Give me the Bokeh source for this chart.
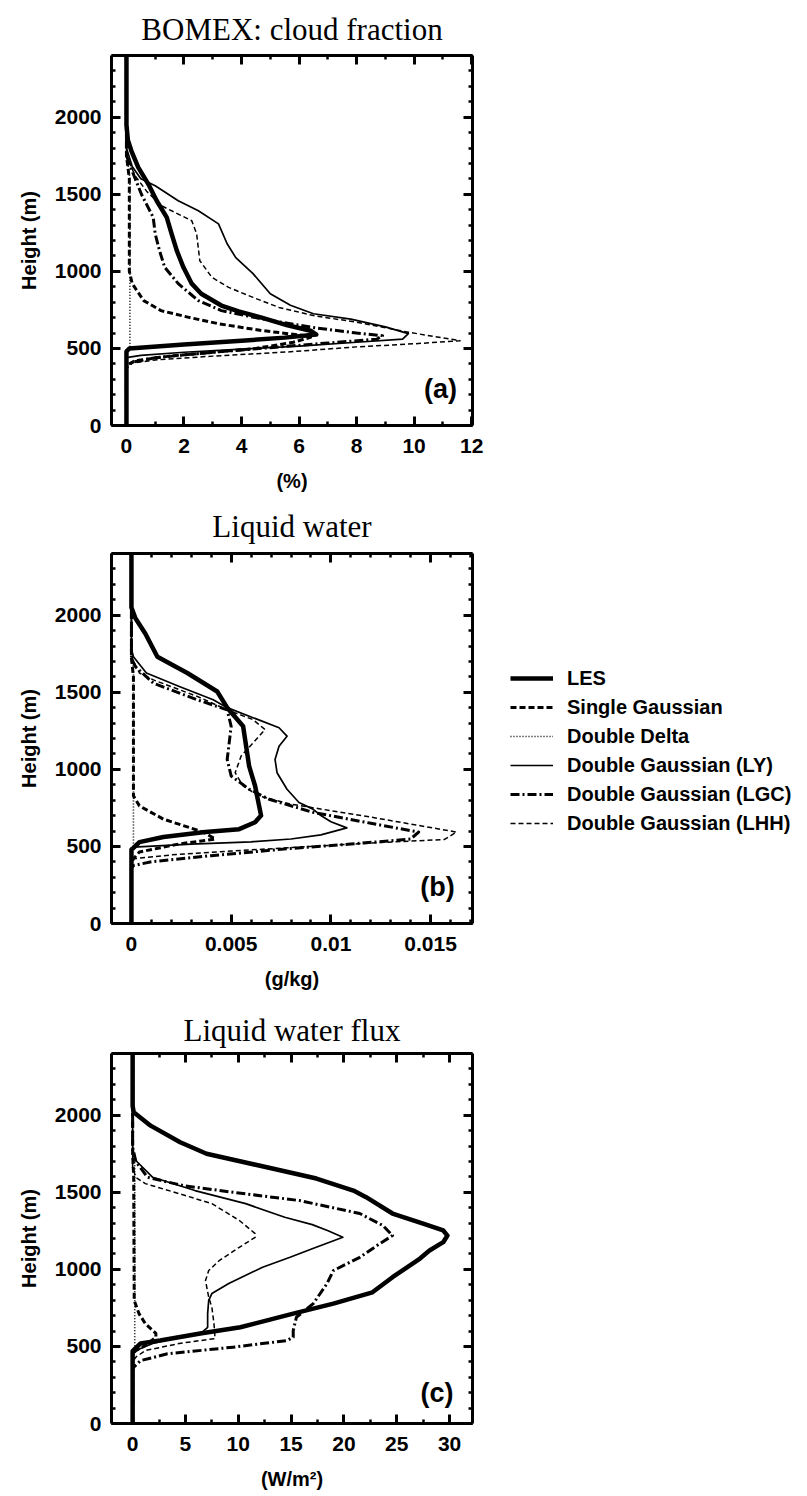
from bokeh.plotting import figure
from bokeh.models import LinearAxis, FixedTicker, Range1d, Label, Legend, LegendItem
from bokeh.layouts import column, row
from bokeh.embed import file_html
from bokeh.resources import INLINE

# ---------------- data ----------------
SERIES = ["LES", "Single Gaussian", "Double Delta",
          "Double Gaussian (LY)", "Double Gaussian (LGC)", "Double Gaussian (LHH)"]

# Panel (a): cloud fraction (%) vs height (m)
A_LES_X = [0, 0, 0.1, 2.0, 4.0, 5.5, 6.6, 6.4, 5.6, 4.7, 3.9, 3.3, 2.6, 2.27, 1.98, 1.75, 1.57, 1.4, 1.05, 0.76, 0.41, 0.17, 0.05, 0, 0]
A_LES_Y = [0, 480, 500, 525, 550, 570, 590, 615, 650, 700, 740, 778, 855, 920, 1026, 1134, 1243, 1350, 1458, 1566, 1674, 1782, 1850, 1950, 2400]
A_SG_X = [0, 0, 0.3, 1.5, 3.0, 4.5, 5.8, 6.4, 6.2, 4.7, 3.2, 2.2, 1.2, 0.6, 0.2, 0.1, 0.1, 0, 0]
A_SG_Y = [0, 390, 420, 450, 475, 500, 540, 572, 583, 616, 660, 700, 745, 810, 920, 1000, 1600, 1750, 2400]
A_DD_X = [0, 0, 0.12, 0.12, 0.05, 0, 0]
A_DD_Y = [0, 490, 500, 1600, 1700, 1800, 2400]
A_LY_X = [0, 0, 0.5, 2.0, 4.0, 6.0, 8.0, 9.6, 9.8, 9.0, 7.8, 6.5, 5.7, 5.0, 4.4, 3.8, 3.5, 3.2, 2.5, 1.8, 1.0, 0.5, 0.2, 0, 0]
A_LY_Y = [0, 440, 455, 475, 495, 515, 540, 560, 596, 640, 690, 725, 780, 855, 985, 1089, 1179, 1308, 1393, 1458, 1555, 1600, 1680, 1800, 2400]
A_LGC_X = [0, 0, 0.2, 1.0, 3.0, 5.0, 7.0, 8.7, 8.9, 8.0, 6.5, 4.7, 3.3, 2.5, 1.8, 1.33, 1.15, 1.0, 0.93, 0.52, 0.2, 0, 0]
A_LGC_Y = [0, 375, 410, 440, 475, 505, 535, 560, 583, 600, 635, 692, 745, 810, 920, 1026, 1134, 1243, 1350, 1500, 1650, 1750, 2400]
A_LHH_X = [0, 0, 1.0, 3.0, 5.7, 8.0, 10.0, 11.6, 9.8, 8.0, 6.5, 5.3, 4.4, 3.55, 2.97, 2.55, 2.44, 2.27, 1.22, 0.7, 0.3, 0, 0]
A_LHH_Y = [0, 400, 425, 450, 478, 510, 530, 550, 605, 670, 713, 766, 831, 896, 961, 1069, 1243, 1328, 1425, 1520, 1620, 1750, 2400]

# Panel (b): liquid water (g/kg) vs height (m)
B_LES_X = [0, 0, 0.0001, 0.0004, 0.0016, 0.0037, 0.0054, 0.0062, 0.0065, 0.0064, 0.0062, 0.0059, 0.00575, 0.0056, 0.0048, 0.0043, 0.0028, 0.0013, 0.0007, 0.0002, 0, 0]
B_LES_Y = [0, 480, 490, 528, 561, 593, 612, 657, 700, 763, 892, 1021, 1150, 1279, 1400, 1505, 1625, 1730, 1880, 1980, 2050, 2400]
B_SG_X = [0, 0, 0.0001, 0.0004, 0.0024, 0.0042, 0.0036, 0.0016, 0.0004, 0.0001, 0.0001, 0, 0]
B_SG_Y = [0, 390, 420, 464, 516, 548, 593, 677, 763, 828, 1600, 1720, 2400]
B_DD_X = [0, 0, 0.0001, 0.0001, 0, 0]
B_DD_Y = [0, 490, 500, 1650, 1750, 2400]
B_LY_X = [0, 0, 0.0001, 0.003, 0.006, 0.008, 0.0095, 0.0108, 0.0100, 0.0095, 0.0091, 0.0084, 0.0078, 0.0073, 0.0072, 0.0074, 0.0078, 0.0074, 0.0061, 0.0048, 0.0041, 0.0024, 0.00075, 0.0001, 0, 0]
B_LY_Y = [0, 460, 495, 515, 530, 548, 575, 620, 660, 700, 742, 785, 871, 978, 1064, 1150, 1215, 1270, 1335, 1400, 1451, 1537, 1625, 1730, 1780, 2400]
B_LGC_X = [0, 0, 0.0001, 0.001, 0.004, 0.008, 0.011, 0.014, 0.0144, 0.012, 0.0091, 0.0069, 0.0059, 0.005, 0.0048, 0.0049, 0.005, 0.0048, 0.0033, 0.0011, 0.0002, 0, 0]
B_LGC_Y = [0, 360, 376, 400, 440, 487, 515, 548, 593, 650, 721, 806, 871, 957, 1064, 1172, 1279, 1386, 1451, 1559, 1666, 1720, 2400]
B_LHH_X = [0, 0, 0.0001, 0.002, 0.005, 0.009, 0.012, 0.0157, 0.0163, 0.012, 0.008, 0.0064, 0.0056, 0.0052, 0.0055, 0.0061, 0.0067, 0.0061, 0.0048, 0.0033, 0.0011, 0.0004, 0.0001, 0, 0]
B_LHH_Y = [0, 400, 420, 445, 470, 500, 522, 545, 593, 690, 774, 827, 892, 978, 1086, 1172, 1258, 1322, 1386, 1473, 1580, 1625, 1700, 1750, 2400]

# Panel (c): liquid water flux (W/m2) vs height (m)
C_LES_X = [0, 0, 0.75, 2.6, 6.4, 10.2, 15.2, 19.0, 22.7, 24.6, 27.2, 28.1, 29.4, 29.8, 29.4, 27.5, 24.6, 22.1, 20.9, 17.4, 12.7, 7.0, 4.5, 1.7, 0.1, 0, 0]
C_LES_Y = [0, 470, 519, 538, 584, 624, 713, 778, 851, 949, 1070, 1122, 1176, 1219, 1252, 1297, 1362, 1468, 1511, 1589, 1662, 1750, 1824, 1932, 2019, 2060, 2400]
C_SG_X = [0, 0, 0.3, 1.2, 2.2, 2.2, 1.2, 0.6, 0.15, 0.1, 0, 0]
C_SG_Y = [0, 450, 473, 506, 560, 584, 648, 713, 798, 1600, 1750, 2400]
C_DD_X = [0, 0, 0.2, 0.2, 0, 0]
C_DD_Y = [0, 480, 500, 1700, 1800, 2400]
C_LY_X = [0, 0, 0.3, 1.9, 4.4, 6.6, 7.1, 7.1, 7.2, 7.5, 9.1, 12.3, 14.9, 17.0, 19.9, 18.5, 17.0, 14.4, 10.7, 5.9, 1.9, 0.3, 0, 0]
C_LY_Y = [0, 450, 473, 519, 560, 592, 624, 713, 798, 843, 908, 1014, 1078, 1134, 1208, 1250, 1290, 1338, 1426, 1511, 1597, 1706, 1780, 2400]
C_LGC_X = [0, 0, 0.1, 0.75, 3.3, 9.5, 14.6, 15.2, 15.2, 15.5, 17.1, 18.4, 19.0, 21.5, 23.4, 24.6, 23.7, 21.5, 15.8, 9.5, 4.8, 1.4, 0.3, 0, 0]
C_LGC_Y = [0, 350, 365, 408, 452, 495, 538, 560, 603, 689, 778, 908, 992, 1078, 1167, 1219, 1284, 1362, 1446, 1500, 1543, 1597, 1700, 1792, 2400]
C_LHH_X = [0, 0, 0.3, 1.2, 4.4, 7.8, 7.7, 7.5, 7.2, 6.9, 7.2, 8.2, 10.1, 11.6, 11.6, 10.1, 7.5, 4.4, 1.2, 0.3, 0, 0]
C_LHH_Y = [0, 400, 430, 473, 519, 551, 648, 754, 819, 927, 992, 1057, 1143, 1208, 1232, 1317, 1426, 1491, 1556, 1597, 1660, 2400]

# ticks
Y_TICKS = [0, 500, 1000, 1500, 2000]
Y_MINOR = list(range(0, 2401, 100))
A_TICKS = [0, 2, 4, 6, 8, 10, 12]
A_MINOR = list(range(0, 13))
B_TICKS = [0, 0.005, 0.01, 0.015]
B_LABELS = ["0", "0.005", "0.01", "0.015"]
B_MINOR = [i * 0.001 for i in range(-1, 18)]
C_TICKS = [0, 5, 10, 15, 20, 25, 30]
C_MINOR = [i * 2.5 for i in range(0, 13)]

# ---------------- styles ----------------
STYLE = {
    "LES": dict(line_width=4.5, line_dash="solid"),
    "Single Gaussian": dict(line_width=3.0, line_dash="6 3"),
    "Double Delta": dict(line_width=1.6, line_dash="1 2"),
    "Double Gaussian (LY)": dict(line_width=1.7, line_dash="solid"),
    "Double Gaussian (LGC)": dict(line_width=3.0, line_dash="9 3 2 3"),
    "Double Gaussian (LHH)": dict(line_width=1.5, line_dash="5 3"),
}
SANS = "Liberation Sans"
SERIF = "Liberation Serif"


def style_axis(ax, ticks, minor, labels=None, show=True):
    ax.ticker = FixedTicker(ticks=ticks, minor_ticks=minor)
    ax.axis_line_width = 3
    ax.axis_line_color = "black"
    ax.major_tick_in = 9
    ax.major_tick_out = 0
    ax.minor_tick_in = 4
    ax.minor_tick_out = 0
    ax.major_tick_line_width = 3
    ax.minor_tick_line_width = 2.5
    ax.major_label_text_font = SANS
    ax.major_label_text_font_style = "bold"
    ax.major_label_text_font_size = "21px"
    ax.major_label_text_color = "black"
    ax.axis_label_text_font = SANS
    ax.axis_label_text_font_style = "bold"
    ax.axis_label_text_font_size = "20px"
    ax.axis_label_text_color = "black"
    if not show:
        ax.major_label_overrides = {t: "" for t in ticks}
        ax.major_label_standoff = 0
    elif labels is not None:
        ax.major_label_overrides = {t: l for t, l in zip(ticks, labels)}


def make_panel(title, xr, xticks, xminor, xlabel, tag, tagpos, top, bottom, tstand,
               series, xlabels=None):
    p = figure(frame_width=361, frame_height=370,
               x_range=Range1d(*xr), y_range=Range1d(0, 2400),
               output_backend="svg", toolbar_location=None,
               min_border_left=111, min_border_right=20,
               min_border_top=top, min_border_bottom=bottom)
    p.outline_line_color = None
    p.xgrid.visible = False
    p.ygrid.visible = False
    p.title.text = title
    p.title.text_font = SERIF
    p.title.text_font_size = "31px"
    p.title.text_font_style = "normal"
    p.title.align = "center"
    p.title.text_color = "black"
    p.title.standoff = tstand

    style_axis(p.xaxis[0], xticks, xminor, labels=xlabels)
    p.xaxis[0].axis_label = xlabel
    p.xaxis[0].major_label_standoff = 13
    p.xaxis[0].axis_label_standoff = 14
    style_axis(p.yaxis[0], Y_TICKS, Y_MINOR)
    p.yaxis[0].axis_label = "Height (m)"
    p.yaxis[0].major_label_standoff = 10
    p.yaxis[0].axis_label_standoff = 12

    top_ax = LinearAxis()
    style_axis(top_ax, xticks, xminor, show=False)
    p.add_layout(top_ax, "above")
    right_ax = LinearAxis()
    style_axis(right_ax, Y_TICKS, Y_MINOR, show=False)
    p.add_layout(right_ax, "right")

    for name, (xs, ys) in zip(SERIES, series):
        p.line(xs, ys, line_color="black", line_join="round", **STYLE[name])

    p.add_layout(Label(x=tagpos[0], y=tagpos[1], text=tag, text_font=SANS,
                       text_font_size="27px", text_font_style="bold",
                       text_align="center", text_baseline="middle", text_color="black"))
    return p


pa = make_panel("BOMEX: cloud fraction", (-0.52, 12.03), A_TICKS, A_MINOR, "(%)", "(a)",
                (10.92, 240), 55, 70, 18,
                [(A_LES_X, A_LES_Y), (A_SG_X, A_SG_Y), (A_DD_X, A_DD_Y),
                 (A_LY_X, A_LY_Y), (A_LGC_X, A_LGC_Y), (A_LHH_X, A_LHH_Y)])
pb_series = [(B_LES_X, B_LES_Y), (B_SG_X, B_SG_Y), (B_DD_X, B_DD_Y),
             (B_LY_X, B_LY_Y), (B_LGC_X, B_LGC_Y), (B_LHH_X, B_LHH_Y)]
pb = make_panel("Liquid water", (-0.001, 0.0171), B_TICKS, B_MINOR, "(g/kg)", "(b)",
                (0.01535, 239), 58, 70, 19, pb_series, xlabels=B_LABELS)
pc = make_panel("Liquid water flux", (-2.0, 32.17), C_TICKS, C_MINOR, "(W/m\u00b2)", "(c)",
                (28.8, 200), 60, 73, 12,
                [(C_LES_X, C_LES_Y), (C_SG_X, C_SG_Y), (C_DD_X, C_DD_Y),
                 (C_LY_X, C_LY_Y), (C_LGC_X, C_LGC_Y), (C_LHH_X, C_LHH_Y)])

# legend area to the right of panel (b): same series, used only as legend keys
pleg = figure(frame_width=315, frame_height=370, x_range=Range1d(-0.001, 0.0171),
              y_range=Range1d(0, 2400), output_backend="svg", toolbar_location=None,
              x_axis_location=None, y_axis_location=None,
              min_border_left=0, min_border_right=0, min_border_top=58, min_border_bottom=70)
pleg.outline_line_color = None
pleg.xgrid.visible = False
pleg.ygrid.visible = False
items = []
for name, (xs, ys) in zip(SERIES, pb_series):
    r = pleg.line(xs, ys, line_color="black", visible=False, **STYLE[name])
    items.append(LegendItem(label=name, renderers=[r]))
lg = Legend(items=items, location=(18, 87), orientation="vertical",
            label_text_font=SANS, label_text_font_style="bold",
            label_text_font_size="20px", label_text_color="black",
            glyph_width=43, glyph_height=26, label_height=26,
            label_standoff=14, spacing=3, padding=0, margin=0,
            border_line_color=None, background_fill_alpha=0, click_policy="none")
pleg.add_layout(lg)

layout = column(pa, row(pb, pleg, spacing=0), pc, spacing=0)
open("out.html", "w").write(file_html(layout, INLINE))
